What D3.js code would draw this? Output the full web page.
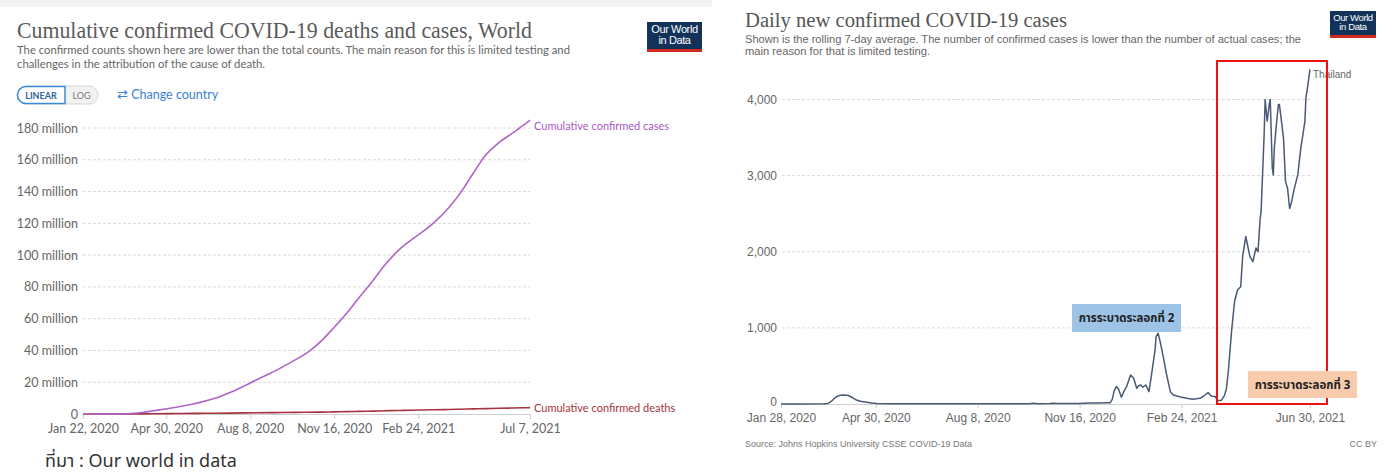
<!DOCTYPE html>
<html>
<head>
<meta charset="utf-8">
<script src="https://cdn.jsdelivr.net/npm/d3@7"></script>
<style>
  html, body { margin: 0; padding: 0; background: #fff; }
  svg { display: block; }
</style>
</head>
<body>
<svg id="chart" width="1390" height="474"></svg>
<script>
// ---------------- DATA ----------------
// Left chart: world cumulative (millions)
const worldDates = ["2020-01-22","2020-02-01","2020-02-15","2020-03-01","2020-03-15","2020-04-01","2020-04-15","2020-05-01","2020-05-15","2020-06-01","2020-06-15","2020-07-01","2020-07-15","2020-08-01","2020-08-15","2020-09-01","2020-09-15","2020-10-01","2020-10-15","2020-11-01","2020-11-15","2020-12-01","2020-12-15","2021-01-01","2021-01-15","2021-02-01","2021-02-15","2021-03-01","2021-03-15","2021-04-01","2021-04-15","2021-05-01","2021-05-15","2021-06-01","2021-06-15","2021-07-01","2021-07-07"];
const worldCases = [0.0006,0.012,0.069,0.088,0.17,0.93,2.06,3.35,4.56,6.3,8.1,10.6,13.5,17.7,21.4,25.6,29.5,34.2,38.6,46.2,54.0,63.6,72.9,83.9,93.6,103.3,109.3,114.6,120.6,129.7,139.0,152.0,162.8,171.2,176.4,182.4,184.9];
const worldDeaths = [0,0.0003,0.0017,0.003,0.006,0.05,0.13,0.24,0.31,0.37,0.44,0.51,0.58,0.68,0.76,0.85,0.93,1.01,1.10,1.19,1.32,1.47,1.63,1.83,2.03,2.23,2.40,2.54,2.67,2.83,3.01,3.22,3.41,3.60,3.76,3.94,4.0];
const leftXTicks = ["2020-01-22","2020-04-30","2020-08-08","2020-11-16","2021-02-24","2021-07-07"];
const leftYTicks = [0,20,40,60,80,100,120,140,160,180];
const seriesLabels = ["Cumulative confirmed cases","Cumulative confirmed deaths"];

// Right chart: Thailand daily new cases (7-day avg)
const thDates = ["2020-01-28","2020-02-20","2020-03-10","2020-03-14","2020-03-17","2020-03-20","2020-03-23","2020-03-26","2020-03-30","2020-04-03","2020-04-07","2020-04-11","2020-04-15","2020-04-21","2020-04-26","2020-05-01","2020-05-15","2020-06-15","2020-07-15","2020-08-15","2020-09-15","2020-09-28","2020-10-02","2020-10-06","2020-10-18","2020-10-21","2020-10-25","2020-11-15","2020-11-25","2020-12-05","2020-12-12","2020-12-16","2020-12-18","2020-12-20","2020-12-22","2020-12-24","2020-12-27","2020-12-30","2021-01-01","2021-01-05","2021-01-08","2021-01-11","2021-01-13","2021-01-15","2021-01-17","2021-01-20","2021-01-23","2021-01-25","2021-01-29","2021-01-30","2021-02-01","2021-02-03","2021-02-06","2021-02-09","2021-02-13","2021-02-16","2021-02-22","2021-03-01","2021-03-07","2021-03-14","2021-03-19","2021-03-22","2021-03-25","2021-03-29","2021-04-01","2021-04-04","2021-04-07","2021-04-09","2021-04-11","2021-04-14","2021-04-17","2021-04-20","2021-04-23","2021-04-25","2021-04-28","2021-05-02","2021-05-05","2021-05-08","2021-05-10","2021-05-12","2021-05-13","2021-05-16","2021-05-17","2021-05-19","2021-05-21","2021-05-22","2021-05-24","2021-05-25","2021-05-26","2021-05-28","2021-05-30","2021-05-31","2021-06-02","2021-06-04","2021-06-06","2021-06-08","2021-06-10","2021-06-12","2021-06-14","2021-06-18","2021-06-21","2021-06-25","2021-06-26","2021-06-28","2021-06-30"];
const thCases = [0,1,3,8,30,70,100,115,118,112,85,52,35,22,12,5,3,2,3,3,3,4,10,4,5,9,5,5,12,14,16,18,60,180,228,200,90,180,228,381,338,206,240,250,220,250,162,338,710,886,930,820,623,404,162,118,96,75,61,75,118,150,105,96,44,48,110,200,450,950,1350,1500,1540,1950,2200,1940,1870,2050,2000,2420,2524,3537,4000,3714,3934,4000,3097,3009,3361,3670,3934,3934,3714,3493,2921,2833,2568,2656,2797,3009,3361,3714,4022,4200,4396];
const rightXTicks = ["2020-01-28","2020-04-30","2020-08-08","2020-11-16","2021-02-24","2021-06-30"];
const rightYTicks = [0,1000,2000,3000,4000];
const countryLabel = "Thailand";
const waveLabels = ["การระบาดระลอกที่ 2","การระบาดระลอกที่ 3"];

// ---------------- DRAW ----------------
const parse = d3.timeParse("%Y-%m-%d");
const fmtDate = d3.timeFormat("%b %-d, %Y");
const svg = d3.select("#chart");
const LATO = "Lato, 'Open Sans', sans-serif";
const ARIAL = "'Liberation Sans', Arial, sans-serif";
const SERIF = "'Liberation Serif', 'DejaVu Serif', serif";
const THAI = "'Noto Sans Thai','Noto Sans','DejaVu Sans',sans-serif";

// faint top strip of left screenshot
svg.append("rect").attr("x",0).attr("y",0).attr("width",712).attr("height",7).attr("fill","#f2f2f2");

// ======= LEFT CHART =======
const L = svg.append("g");
L.append("text").attr("x",17).attr("y",38).attr("font-family",SERIF).attr("font-size",23)
  .attr("fill","#5b5b5b").attr("textLength",515).attr("lengthAdjust","spacingAndGlyphs")
  .text("Cumulative confirmed COVID-19 deaths and cases, World");
L.append("text").attr("x",17).attr("y",54).attr("font-family",LATO).attr("font-size",12)
  .attr("fill","#666").attr("textLength",553).attr("lengthAdjust","spacingAndGlyphs")
  .text("The confirmed counts shown here are lower than the total counts. The main reason for this is limited testing and");
L.append("text").attr("x",17).attr("y",68).attr("font-family",LATO).attr("font-size",12)
  .attr("fill","#666").attr("textLength",248).attr("lengthAdjust","spacingAndGlyphs")
  .text("challenges in the attribution of the cause of death.");

// logo
function logo(g, x, y, w, h, fs) {
  g.append("rect").attr("x",x).attr("y",y).attr("width",w).attr("height",h).attr("fill","#12325a");
  g.append("rect").attr("x",x).attr("y",y+h-3).attr("width",w).attr("height",3).attr("fill","#d1281f");
  g.append("text").attr("x",x+w/2).attr("y",y+h*0.38).attr("text-anchor","middle").attr("font-family",ARIAL)
    .attr("font-size",fs).attr("fill","#fff").attr("letter-spacing",-0.4).text("Our World");
  g.append("text").attr("x",x+w/2).attr("y",y+h*0.72).attr("text-anchor","middle").attr("font-family",ARIAL)
    .attr("font-size",fs).attr("fill","#fff").attr("letter-spacing",-0.4).text("in Data");
}
logo(L, 647, 22, 55, 30, 11);

// LINEAR / LOG toggle
L.append("rect").attr("x",17).attr("y",86).attr("width",81).attr("height",18).attr("rx",9)
  .attr("fill","#f2f2f2").attr("stroke","#d6d6d6");
L.append("path").attr("d","M26,86.5 H65 V103.5 H26 A8.5,8.5 0 0 1 26,86.5 Z")
  .attr("fill","#fff").attr("stroke","#3b8ad9").attr("stroke-width",1.5);
L.append("text").attr("x",41).attr("y",98.5).attr("text-anchor","middle").attr("font-family",LATO)
  .attr("font-weight","bold").attr("font-size",9).attr("fill","#2c5f9e").text("LINEAR");
L.append("text").attr("x",81.5).attr("y",98.5).attr("text-anchor","middle").attr("font-family",LATO)
  .attr("font-size",9).attr("fill","#777").text("LOG");
L.append("text").attr("x",117).attr("y",99).attr("font-family",LATO).attr("font-size",12.5)
  .attr("fill","#3d7fd6").text("⇄ Change country");

const xL = d3.scaleTime().domain([parse("2020-01-22"), parse("2021-07-07")]).range([83, 530]);
const yL = d3.scaleLinear().domain([0, 180]).range([414, 128]);

L.append("g").selectAll("line").data(leftYTicks.filter(d=>d>0)).join("line")
  .attr("x1",83).attr("x2",530).attr("y1",d=>yL(d)).attr("y2",d=>yL(d))
  .attr("stroke","#d9d9d9").attr("stroke-dasharray","3,2");

const yAxisL = L.append("g").attr("transform","translate(83,0)")
  .call(d3.axisLeft(yL).tickValues(leftYTicks).tickSize(0).tickPadding(5)
    .tickFormat(d => d === 0 ? "0" : d + " million"));
yAxisL.select(".domain").remove();
yAxisL.selectAll("text").attr("font-family",LATO).attr("font-size",12.5).attr("fill","#666");

const xAxisL = L.append("g").attr("transform","translate(0,414)")
  .call(d3.axisBottom(xL).tickValues(leftXTicks.map(parse)).tickSize(5).tickPadding(5).tickFormat(fmtDate));
xAxisL.select(".domain").attr("stroke","#cfcfcf");
xAxisL.selectAll("line").attr("stroke","#cfcfcf");
xAxisL.selectAll("text").attr("font-family",LATO).attr("font-size",12.5).attr("fill","#666");

const wd = worldDates.map(parse);
const lineL = d3.line().x((d,i)=>xL(wd[i])).y(d=>yL(d)).curve(d3.curveMonotoneX);
L.append("path").datum(worldDeaths).attr("d",lineL).attr("fill","none").attr("stroke","#a63340").attr("stroke-width",1.6);
L.append("path").datum(worldCases).attr("d",lineL).attr("fill","none").attr("stroke","#b064c8").attr("stroke-width",1.6);

L.append("text").attr("x",534).attr("y",yL(worldCases[worldCases.length-1])+10).attr("font-family",LATO)
  .attr("font-size",11).attr("fill","#a957c2").text(seriesLabels[0]);
L.append("text").attr("x",534).attr("y",yL(worldDeaths[worldDeaths.length-1])+4).attr("font-family",LATO)
  .attr("font-size",11).attr("fill","#a63340").text(seriesLabels[1]);

// Thai source footnote
L.append("text").attr("x",45).attr("y",467).attr("font-family",THAI)
  .attr("font-size",18).attr("fill","#333").text("ที่มา : Our world in data");

// ======= RIGHT CHART =======
const R = svg.append("g");
R.append("text").attr("x",745).attr("y",27).attr("font-family",SERIF).attr("font-size",20.5)
  .attr("fill","#555").attr("textLength",322).attr("lengthAdjust","spacingAndGlyphs")
  .text("Daily new confirmed COVID-19 cases");
R.append("text").attr("x",745).attr("y",43).attr("font-family",ARIAL).attr("font-size",10.5)
  .attr("fill","#666").attr("textLength",556).attr("lengthAdjust","spacingAndGlyphs")
  .text("Shown is the rolling 7-day average. The number of confirmed cases is lower than the number of actual cases; the");
R.append("text").attr("x",745).attr("y",55).attr("font-family",ARIAL).attr("font-size",10.5)
  .attr("fill","#666").attr("textLength",185).attr("lengthAdjust","spacingAndGlyphs")
  .text("main reason for that is limited testing.");
logo(R, 1330, 11, 46, 27, 9.5);

const xR = d3.scaleTime().domain([parse("2020-01-28"), parse("2021-06-30")]).range([781, 1310]);
const yR = d3.scaleLinear().domain([0, 4000]).range([404, 99.5]);

R.append("g").selectAll("line").data(rightYTicks.filter(d=>d>0)).join("line")
  .attr("x1",782).attr("x2",1310).attr("y1",d=>yR(d)).attr("y2",d=>yR(d))
  .attr("stroke","#dadada").attr("stroke-dasharray","3,2");

const yAxisR = R.append("g").attr("transform","translate(781,0)")
  .call(d3.axisLeft(yR).tickValues(rightYTicks).tickSize(0).tickPadding(4).tickFormat(d3.format(",")));
yAxisR.select(".domain").remove();
yAxisR.selectAll("text").attr("font-family",ARIAL).attr("font-size",12).attr("fill","#666");
yAxisR.selectAll(".tick").filter(d => d === 0).select("text").attr("dy","0.1em");

const xAxisR = R.append("g").attr("transform","translate(0,404)")
  .call(d3.axisBottom(xR).tickValues(rightXTicks.map(parse)).tickSize(4).tickPadding(5).tickFormat(fmtDate));
xAxisR.select(".domain").attr("stroke","#cfcfcf");
xAxisR.selectAll("line").attr("stroke","#cfcfcf");
xAxisR.selectAll("text").attr("font-family",ARIAL).attr("font-size",12).attr("fill","#666");

const td = thDates.map(parse);
const lineR = d3.line().x((d,i)=>xR(td[i])).y(d=>yR(d));
R.append("path").datum(thCases).attr("d",lineR).attr("fill","none").attr("stroke","#4a5a74").attr("stroke-width",1.5)
  .attr("stroke-linejoin","round");
R.append("text").attr("x",1313).attr("y",78).attr("font-family",ARIAL).attr("font-size",10)
  .attr("fill","#666").text(countryLabel);

// Red highlight box (third wave)
R.append("rect").attr("x",1217).attr("y",61).attr("width",110).attr("height",343)
  .attr("fill","none").attr("stroke","#ee1111").attr("stroke-width",2);

// Annotation boxes
R.append("rect").attr("x",1072).attr("y",304).attr("width",109).attr("height",28).attr("fill","#9dc3e6");
R.append("text").attr("x",1126.5).attr("y",322).attr("text-anchor","middle")
  .attr("font-family",THAI).attr("font-weight","bold")
  .attr("font-size",11.5).attr("fill","#222").text(waveLabels[0]);
R.append("rect").attr("x",1248).attr("y",371).attr("width",109).attr("height",27).attr("fill","#f8cbad");
R.append("text").attr("x",1302.5).attr("y",389).attr("text-anchor","middle")
  .attr("font-family",THAI).attr("font-weight","bold")
  .attr("font-size",11.5).attr("fill","#222").text(waveLabels[1]);

// Source line
R.append("text").attr("x",745).attr("y",447).attr("font-family",ARIAL).attr("font-size",9)
  .attr("fill","#777").text("Source: Johns Hopkins University CSSE COVID-19 Data");
R.append("text").attr("x",1377).attr("y",447).attr("text-anchor","end").attr("font-family",ARIAL).attr("font-size",9)
  .attr("fill","#777").text("CC BY");
</script>
</body>
</html>
